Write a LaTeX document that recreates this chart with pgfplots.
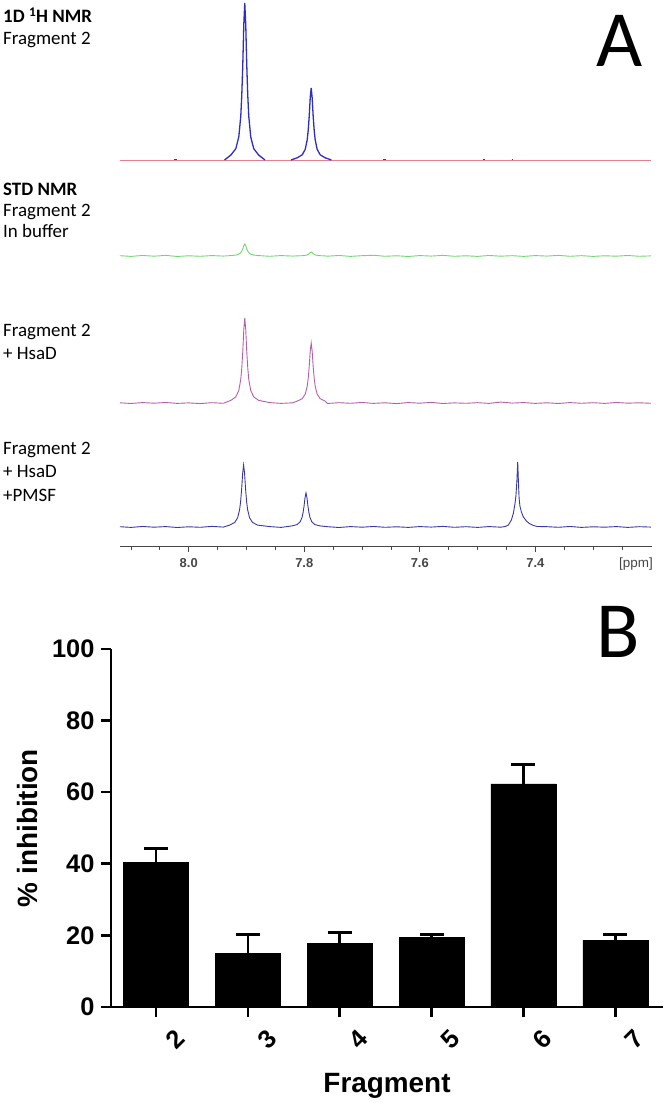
\documentclass[border=0pt]{standalone}
\usepackage{fontspec}
\usepackage{pgfplots}
\pgfplotsset{compat=1.18}
\setmainfont{Carlito}
\newfontfamily\arial{Liberation Sans}
\newfontfamily\calibri{Carlito}
\definecolor{nmrpink}{RGB}{226,128,140}
\definecolor{nmrblue}{RGB}{45,45,200}
\definecolor{nmrgreen}{RGB}{110,215,110}
\definecolor{nmrmauve}{RGB}{180,95,170}
\definecolor{nmrnavy}{RGB}{55,55,165}
\definecolor{axgray}{RGB}{70,70,70}
\begin{document}
\begin{tikzpicture}[x=1bp,y=1bp]
\useasboundingbox (0,0) rectangle (666,1116);
% ---------------- Panel A: NMR spectra ----------------
\begin{axis}[
  at={(120bp,570bp)}, anchor=south west,
  width=532bp, height=546bp, scale only axis,
  xmin=7.198, xmax=8.119, ymin=0, ymax=546,
  x dir=reverse,
  axis x line*=bottom, axis y line=none,
  x axis line style={-, axgray, line width=0.8bp},
  xtick={7.4,7.6,7.8,8.0},
  minor xtick={7.25,7.3,7.35,7.45,7.5,7.55,7.65,7.7,7.75,7.85,7.9,7.95,8.05,8.1},
  tick align=outside,
  major tick length=6bp, minor tick length=4bp,
  tick style={axgray, line width=0.8bp},
  /pgf/number format/assume math mode=true,
  xticklabel style={font=\fontsize{13}{14}\selectfont\arial\bfseries, text=axgray, yshift=-3bp, /pgf/number format/.cd, fixed, fixed zerofill, precision=1},
  clip=true,
]
% Trace 1: 1D 1H NMR (baseline pink, peaks blue)
\addplot[nmrpink, line width=0.9bp] coordinates {(8.12,386) (7.20,386)};
\addplot[nmrblue, line width=1.3bp] coordinates {
(7.938,386) (7.9271,390.9) (7.9185,397.3) (7.9133,409.2) (7.9099,430.0) (7.9082,450.4) (7.9064,481.8) (7.9047,521.3) (7.903,543)
(7.9013,521.3) (7.8996,481.8) (7.8978,450.4) (7.8961,430.0) (7.8927,409.2) (7.8875,397.3) (7.8789,390.9) (7.868,386)};
\addplot[nmrblue, line width=1.3bp] coordinates {
(7.823,386) (7.8121,388.2) (7.8035,391.2) (7.7983,396.7) (7.7949,406.2) (7.7932,415.5) (7.7914,429.9) (7.7897,448.1) (7.788,458)
(7.7863,448.1) (7.7846,429.9) (7.7828,415.5) (7.7811,406.2) (7.7777,396.7) (7.7725,391.2) (7.7639,388.2) (7.753,386)};
\addplot[nmrnavy, line width=1.2bp] coordinates {(8.026,386.3) (8.021,386.3)};
\addplot[nmrnavy, line width=1.2bp] coordinates {(7.664,386.3) (7.659,386.3)};
\addplot[nmrnavy, line width=1.2bp] coordinates {(7.491,386.3) (7.487,386.3)};
\addplot[nmrnavy, line width=1.2bp] coordinates {(7.441,386.3) (7.438,386.3)};
% Trace 2: STD NMR in buffer (green)
\addplot[nmrgreen, line width=0.9bp] coordinates {
(8.12,290.3) (8.10,289.6) (8.08,290.5) (8.06,289.8) (8.04,290.6) (8.02,289.5) (8.00,290.2) (7.98,289.7) (7.96,290.4) (7.94,289.9)
(7.9271,290.4) (7.9185,290.9) (7.9133,291.8) (7.9099,293.4) (7.9082,294.9) (7.9064,297.3) (7.9047,300.3) (7.903,302)
(7.9013,300.3) (7.8996,297.3) (7.8978,294.9) (7.8961,293.4) (7.8927,291.8) (7.8875,290.9) (7.8789,290.4)
(7.86,289.7) (7.84,290.4) (7.82,289.9)
(7.8121,290.1) (7.8035,290.3) (7.7983,290.6) (7.7949,291.1) (7.7932,291.6) (7.7914,292.4) (7.7897,293.4) (7.788,294)
(7.7863,293.4) (7.7846,292.4) (7.7828,291.6) (7.7811,291.1) (7.7777,290.6) (7.7725,290.3) (7.7639,290.1)
(7.76,289.8) (7.74,290.5) (7.72,289.6) (7.70,290.3) (7.68,290.7) (7.66,289.7) (7.64,290.2) (7.62,289.5) (7.60,290.4) (7.58,289.9)
(7.56,290.6) (7.54,289.7) (7.52,290.2) (7.50,289.6) (7.48,290.5) (7.46,289.8) (7.44,290.3) (7.42,289.6) (7.40,290.4) (7.38,289.9)
(7.36,290.6) (7.34,289.7) (7.32,290.3) (7.30,289.6) (7.28,290.2) (7.26,289.8) (7.24,290.5) (7.22,289.7) (7.20,290.1)};
% Trace 3: + HsaD (mauve)
\addplot[nmrmauve, line width=0.9bp] coordinates {
(8.12,143.2) (8.10,142.5) (8.08,143.4) (8.06,142.8) (8.04,143.5) (8.02,142.6) (8.00,143.1) (7.98,142.4) (7.96,143.3) (7.94,142.7)
(7.9271,145.6) (7.9185,149.1) (7.9133,155.6) (7.9099,166.8) (7.9082,177.9) (7.9064,194.9) (7.9047,216.3) (7.903,228)
(7.9013,216.3) (7.8996,194.9) (7.8978,177.9) (7.8961,166.8) (7.8927,155.6) (7.8875,149.1) (7.8789,145.6)
(7.86,143.4) (7.84,142.6) (7.82,143.2)
(7.8121,144.9) (7.8035,147.3) (7.7983,151.9) (7.7949,159.8) (7.7932,167.6) (7.7914,179.6) (7.7897,194.7) (7.788,203)
(7.7863,194.7) (7.7846,179.6) (7.7828,167.6) (7.7811,159.8) (7.7777,151.9) (7.7725,147.3) (7.7639,144.9)
(7.76,142.5) (7.74,143.3) (7.72,142.7) (7.70,143.5) (7.68,142.6) (7.66,143.2) (7.64,142.4) (7.62,143.4) (7.60,142.8) (7.58,143.6)
(7.56,142.5) (7.54,143.1) (7.52,142.7) (7.50,143.3) (7.48,142.6) (7.46,143.9) (7.44,142.9) (7.42,143.4) (7.40,142.6) (7.38,143.2)
(7.36,142.5) (7.34,143.4) (7.32,142.7) (7.30,143.3) (7.28,142.6) (7.26,143.5) (7.24,142.8) (7.22,143.2) (7.20,142.7)};
% Trace 4: + HsaD + PMSF (navy)
\addplot[nmrnavy, line width=0.9bp] coordinates {
(8.12,19.3) (8.10,18.6) (8.08,19.5) (8.06,18.8) (8.04,19.4) (8.02,18.5) (8.00,19.2) (7.98,18.7) (7.96,19.6) (7.94,18.9)
(7.9291,20.9) (7.9205,23.5) (7.9153,28.2) (7.9119,36.4) (7.9102,44.4) (7.9084,56.8) (7.9067,72.4) (7.905,81)
(7.9033,72.4) (7.9016,56.8) (7.8998,44.4) (7.8981,36.4) (7.8947,28.2) (7.8895,23.5) (7.8809,20.9)
(7.86,19.4) (7.84,18.6)
(7.8211,20.1) (7.8125,21.4) (7.8073,24.0) (7.8039,28.5) (7.8022,32.9) (7.8004,39.7) (7.7987,48.3) (7.797,53)
(7.7953,48.3) (7.7936,39.7) (7.7918,32.9) (7.7901,28.5) (7.7867,24.0) (7.7815,21.4) (7.7729,20.1)
(7.76,19.3) (7.74,18.5) (7.72,19.4) (7.70,18.8) (7.68,19.5) (7.66,18.7) (7.64,19.2) (7.62,18.6) (7.60,19.4) (7.58,18.9)
(7.56,19.6) (7.54,18.7) (7.52,19.3) (7.50,18.6) (7.48,19.4) (7.46,18.8)
(7.4517,19.5) (7.4466,21) (7.4414,26) (7.4379,33) (7.4353,42) (7.4336,50) (7.4319,65) (7.4305,84)
(7.4293,65) (7.4281,48) (7.4267,40) (7.4241,34) (7.4207,29) (7.4155,25) (7.4103,22.5) (7.4034,20.5) (7.3966,19.5)
(7.38,19.3) (7.36,18.7) (7.34,19.5) (7.32,18.6) (7.30,19.2) (7.28,18.8) (7.26,19.4) (7.24,18.6) (7.22,19.3) (7.20,18.9)};
\end{axis}
\node[anchor=center, font=\fontsize{13.5}{14}\selectfont\arial, text=axgray] at (636,552) {[ppm]};
% trace labels
\begin{scope}[every node/.style={anchor=base west, inner sep=0pt, font=\fontsize{19}{21}\selectfont\calibri}]
\node at (3,1093) {\bfseries 1D \textsuperscript{1}H NMR};
\node at (3,1071) {Fragment 2};
\node at (3,920) {\bfseries STD NMR};
\node at (3,899) {Fragment 2};
\node at (3,878) {In buffer};
\node at (3,779) {Fragment 2};
\node at (3,756) {+ HsaD};
\node at (3,661) {Fragment 2};
\node at (3,638) {+ HsaD};
\node at (3,614) {+PMSF};
\end{scope}
\node[anchor=base, inner sep=0pt, font=\fontsize{80}{80}\selectfont\calibri] at (620,1049) {A};
\node[anchor=base, inner sep=0pt, font=\fontsize{80}{80}\selectfont\calibri] at (618,458) {B};
% ---------------- Panel B: bar chart ----------------
\begin{axis}[
  at={(111bp,109bp)}, anchor=south west,
  width=552bp, height=358bp, scale only axis,
  xmin=1.51, xmax=7.52, ymin=0, ymax=100,
  axis lines=left, axis line style={-, line width=2.6bp, black},
  xtick={2,3,4,5,6,7}, ytick={0,20,40,60,80,100},
  tick align=outside, major tick length=10bp,
  tick style={line width=2.6bp, black},
  /pgf/number format/assume math mode=true,
  ticklabel style={font=\fontsize{25.5}{28}\selectfont\arial\bfseries},
  yticklabel style={xshift=-3bp},
  xticklabel style={rotate=45, anchor=center, yshift=-29bp, xshift=-2bp},
  every axis x label/.style={at={(axis description cs:0.5,-0.2402)}, anchor=base},
  every axis y label/.style={at={(axis description cs:-0.1504,0.5)}, rotate=90, anchor=center},
  label style={font=\fontsize{28}{30}\selectfont\arial\bfseries},
  xlabel={Fragment}, ylabel={\% inhibition},
  ybar, bar width=65bp, bar shift=0pt,
]
\addplot[fill=black, draw=black,
  error bars/.cd, y dir=plus, y explicit,
  error bar style={line width=2.6bp, black},
  error mark options={rotate=90, line width=2.6bp, mark size=12bp, black}]
coordinates {(2,40.5) +- (0,3.8) (3,14.9) +- (0,5.3) (4,17.7) +- (0,3.1) (5,19.4) +- (0,0.9) (6,62.3) +- (0,5.5) (7,18.6) +- (0,1.7)};
\end{axis}
\end{tikzpicture}
\end{document}
